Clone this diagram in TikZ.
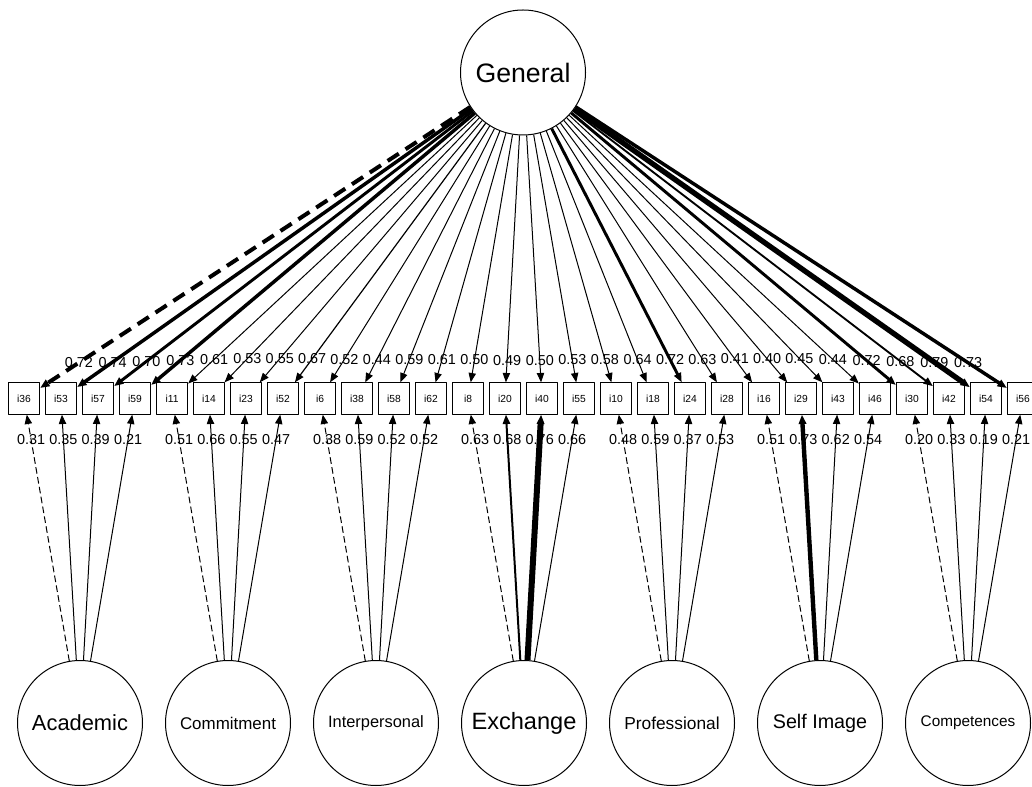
\documentclass[tikz,border=0pt]{standalone}
\usepackage{fontspec}
\setmainfont{Liberation Sans}
\usetikzlibrary{arrows.meta}

\tikzset{
	latent/.style={circle,draw,line width=0.75pt,minimum size=93.75pt,inner sep=0pt},
	item/.style={rectangle,draw,line width=0.75pt,minimum size=23.5pt,inner sep=0pt,fill=white,font=\fontsize{7.7}{8}\selectfont},
	coef/.style={font=\fontsize{10.8}{11}\selectfont,inner sep=0pt},
	fixedpath/.style={dash pattern=on 5pt off 2.5pt},
	fixedthick/.style={dash pattern=on 10pt off 6pt},
}

\begin{document}
\begin{tikzpicture}[line join=round,>={Triangle[length=7pt,width=5.5pt]},x=0.75pt,y=-0.75pt]
			\useasboundingbox (0,0) rectangle (1032,787);
			\node[latent,font=\fontsize{20}{20}\selectfont] (gen) at (523,72.5) {General};
			\foreach \n [count=\k from 0] in {36,53,57,59,11,14,23,52,6,38,58,62,8,20,40,55,10,18,24,28,16,29,43,46,30,42,54,56}
			{\node[item] (i\n) at ({24+37*\k},398.5) {i\n};}
			\foreach \f/\txt/\sz [count=\j from 0] in {acad/Academic/16.4,comm/Commitment/12.7,inter/Interpersonal/12.3,exch/Exchange/17.7,prof/Professional/13,self/Self Image/14.8,comp/Competences/11.5}
			{\node[latent,font=\fontsize{\sz}{\sz}\selectfont] (\f) at ({80+148*\j},723) {\txt};}
			\foreach \n/\ld/\lw/\st in {36/0.72/3/fixedthick,53/0.74/2.6/solid,57/0.70/2.2/solid,59/0.73/2.6/solid,
				11/0.61/0.75/solid,14/0.53/0.75/solid,23/0.55/0.75/solid,52/0.67/0.9/solid,
				6/0.52/0.75/solid,38/0.44/0.75/solid,58/0.59/0.75/solid,62/0.61/0.75/solid,
				8/0.50/0.75/solid,20/0.49/0.75/solid,40/0.50/0.75/solid,55/0.53/0.75/solid,
				10/0.58/0.75/solid,18/0.64/0.75/solid,24/0.72/2.2/solid,28/0.63/0.75/solid,
				16/0.41/0.75/solid,29/0.40/0.75/solid,43/0.45/0.75/solid,46/0.44/0.75/solid,
				30/0.72/2.2/solid,42/0.68/1.4/solid,54/0.79/4/solid,56/0.73/2.6/solid}
			{\draw[->,line width=\lw pt,\st] (gen) -- (i\n) node[coef,pos=0.91] {\ld};}
			\foreach \f/\n/\ld/\lw/\st in {acad/36/0.31/0.75/fixedpath,acad/53/0.35/0.75/solid,acad/57/0.39/0.75/solid,acad/59/0.21/0.75/solid,
				comm/11/0.51/0.75/fixedpath,comm/14/0.66/0.75/solid,comm/23/0.55/0.75/solid,comm/52/0.47/0.75/solid,
				inter/6/0.38/0.75/fixedpath,inter/38/0.59/0.75/solid,inter/58/0.52/0.75/solid,inter/62/0.52/0.75/solid,
				exch/8/0.63/0.75/fixedpath,exch/20/0.68/1.5/solid,exch/40/0.76/4.5/solid,exch/55/0.66/0.75/solid,
				prof/10/0.48/0.75/fixedpath,prof/18/0.59/0.75/solid,prof/24/0.37/0.75/solid,prof/28/0.53/0.75/solid,
				self/16/0.51/0.75/fixedpath,self/29/0.73/3.3/solid,self/43/0.62/0.75/solid,self/46/0.54/0.75/solid,
				comp/30/0.20/0.75/fixedpath,comp/42/0.33/0.75/solid,comp/54/0.19/0.75/solid,comp/56/0.21/0.75/solid}
			{\draw[->,line width=\lw pt,\st] (\f) -- (i\n) node[coef,pos=0.9] {\ld};}
		\end{tikzpicture}
\end{document}
